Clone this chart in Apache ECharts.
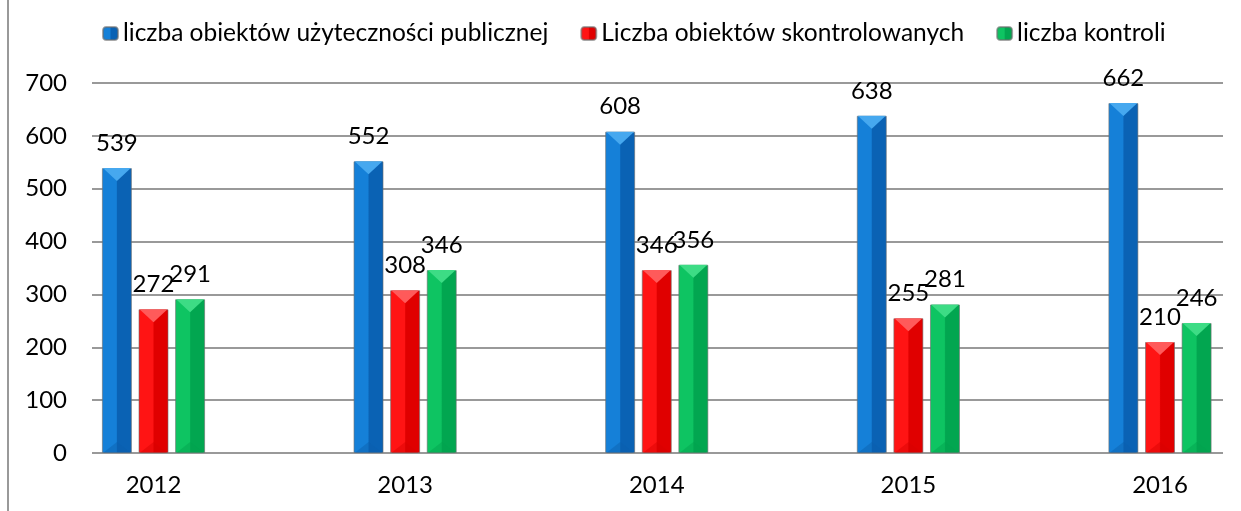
<!DOCTYPE html>
<html>
<head>
<meta charset="utf-8">
<script src="https://cdn.jsdelivr.net/npm/echarts@6/dist/echarts.min.js"></script>
<style>
  html, body { margin: 0; padding: 0; background: #fff; }
  #chart { width: 1241px; height: 511px; }
</style>
</head>
<body>
<div id="chart"></div>
<script>
const years = ['2012', '2013', '2014', '2015', '2016']
const seriesNames = [
  'liczba obiektów użyteczności publicznej',
  'Liczba obiektów skontrolowanych',
  'liczba kontroli',
]
const publicObjects = [539, 552, 608, 638, 662]
const checkedObjects = [272, 308, 346, 255, 210]
const inspections = [291, 346, 356, 281, 246]

const FONT = 'Lato'
const BAR_W = 30
const STEP = 36.6 // distance between neighbouring bar centres

// [light left, dark right, top bevel, bottom bevel]
const palettes = [
  ['#1580d8', '#0a62b4', '#46a8ef', '#0c5fae'],
  ['#ff1414', '#e00000', '#ff5a5a', '#d80000'],
  ['#0ec462', '#02a650', '#3ddc85', '#03a24e'],
]

function prism(p) {
  return new echarts.graphic.LinearGradient(0, 0, 1, 0, [
    { offset: 0, color: p[0] },
    { offset: 0.48, color: p[0] },
    { offset: 0.52, color: p[1] },
    { offset: 1, color: p[1] },
  ])
}

const values = [publicObjects, checkedObjects, inspections]
const series = []
values.forEach((data, i) => {
  series.push({
    name: seriesNames[i],
    type: 'bar',
    xAxisIndex: 1,
    yAxisIndex: 1,
    barWidth: BAR_W,
    barGap: '22%',
    data: data,
    itemStyle: {
      color: prism(palettes[i]),
      borderColor: 'rgba(110,110,110,0.6)',
      borderWidth: 1,
    },
    label: {
      show: true,
      position: 'top',
      distance: 13,
      color: '#000',
      fontFamily: FONT,
      fontSize: 24,
    },
    z: 2,
  })
  // top bevel
  series.push({
    type: 'pictorialBar',
    xAxisIndex: 1,
    yAxisIndex: 1,
    symbol: 'triangle',
    symbolRotate: 180,
    symbolSize: [BAR_W - 2, 13],
    symbolPosition: 'end',
    symbolOffset: [(i - 1) * STEP, 0],
    data: data,
    itemStyle: { color: palettes[i][2] },
    z: 3,
    silent: true,
  })
  // bottom bevel
  series.push({
    type: 'pictorialBar',
    xAxisIndex: 1,
    yAxisIndex: 1,
    symbol: 'triangle',
    symbolSize: [BAR_W - 2, 11],
    symbolPosition: 'start',
    symbolOffset: [(i - 1) * STEP, 0],
    data: data,
    itemStyle: { color: palettes[i][3], opacity: 0.45 },
    z: 3,
    silent: true,
  })
})

const chart = echarts.init(document.getElementById('chart'))
chart.setOption({
  backgroundColor: '#fff',
  animation: false,
  legend: {
    data: seriesNames,
    top: 16,
    left: 97,
    itemWidth: 15,
    itemHeight: 13,
    itemGap: 32,
    textStyle: { color: '#000', fontFamily: FONT, fontSize: 24.5 },
  },
  grid: [
    { left: 92, right: 18, top: 83, bottom: 58 },
    { left: 153.5, right: 81, top: 83, bottom: 58 },
  ],
  xAxis: [
    { type: 'category', gridIndex: 0, data: years, show: false },
    {
      type: 'category',
      gridIndex: 1,
      data: years,
      boundaryGap: false,
      axisLine: { show: false },
      axisTick: { show: false },
      axisLabel: { color: '#000', fontFamily: FONT, fontSize: 24, margin: 20, interval: 0 },
    },
  ],
  yAxis: [
    {
      type: 'value',
      gridIndex: 0,
      min: 0,
      max: 700,
      interval: 100,
      axisLine: { show: false },
      axisTick: { show: false },
      axisLabel: { color: '#000', fontFamily: FONT, fontSize: 24, margin: 25 },
      splitLine: { lineStyle: { color: '#999', width: 2 } },
    },
    { type: 'value', gridIndex: 1, min: 0, max: 700, interval: 100, show: false, splitLine: { show: false } },
  ],
  graphic: [
    {
      type: 'line',
      shape: { x1: 8, y1: 0, x2: 8, y2: 511 },
      style: { stroke: '#999', lineWidth: 2 },
    },
  ],
  series: series,
})
</script>
</body>
</html>
